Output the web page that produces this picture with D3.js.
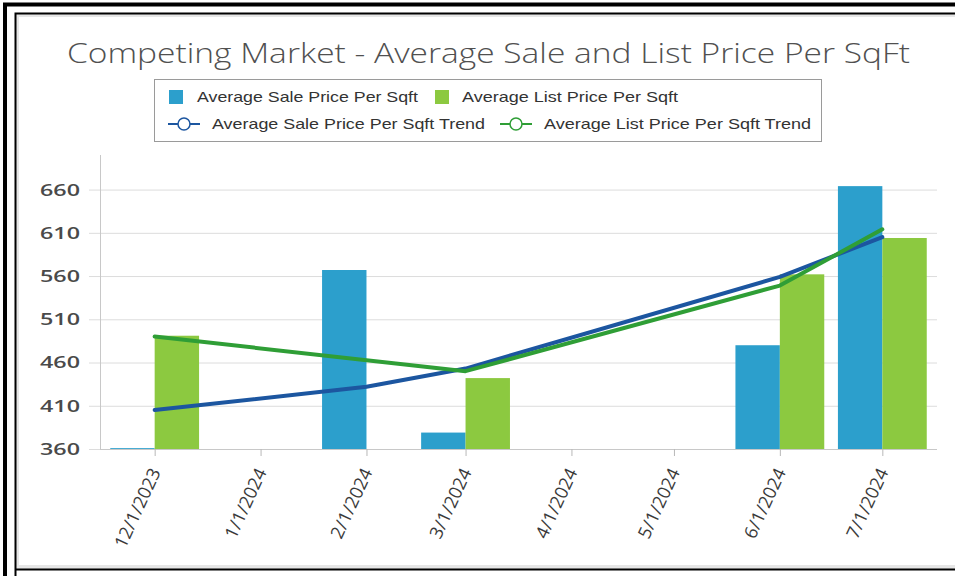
<!DOCTYPE html>
<html>
<head>
<meta charset="utf-8">
<script src="https://cdn.jsdelivr.net/npm/d3@7"></script>
<style>
  html, body { margin: 0; padding: 0; background: #fff; }
  svg { display: block; }
</style>
</head>
<body>
<svg id="chart" width="955" height="576"></svg>
<script>
// ---- data ----
const dates = ["2023-12-01", "2024-01-01", "2024-02-01", "2024-03-01", "2024-04-01", "2024-05-01", "2024-06-01", "2024-07-01"];
const tickLabels = ["12/1/2023", "1/1/2024", "2/1/2024", "3/1/2024", "4/1/2024", "5/1/2024", "6/1/2024", "7/1/2024"];
const salePrice = [361, null, 567, 379, null, null, 480, 664];
const listPrice = [491, null, null, 442, null, null, 562, 604];
const saleTrend = [405, null, 432, 453, null, null, 559, 605];
const listTrend = [490, null, null, 450, null, null, 549, 614];
const yTicks = [360, 410, 460, 510, 560, 610, 660];
const seriesNames = ["Average Sale Price Per Sqft", "Average List Price Per Sqft", "Average Sale Price Per Sqft Trend", "Average List Price Per Sqft Trend"];
const title = "Competing Market - Average Sale and List Price Per SqFt";

const colors = { saleBar: "#2c9fcc", listBar: "#8cc940", saleLine: "#1c56a0", listLine: "#2f9e36" };

const parse = d3.timeParse("%Y-%m-%d");
const dd = dates.map(parse);

const svg = d3.select("#chart");

// ---- frame ----
svg.append("rect").attr("x", 0).attr("y", 0).attr("width", 955).attr("height", 576).attr("fill", "#fff");
svg.append("line").attr("x1", 3).attr("x2", 955).attr("y1", 4.5).attr("y2", 4.5).attr("stroke", "#000").attr("stroke-width", 4);
svg.append("line").attr("x1", 5).attr("x2", 5).attr("y1", 3).attr("y2", 576).attr("stroke", "#000").attr("stroke-width", 4);
svg.append("rect").attr("x", 17).attr("y", 15).attr("width", 945).attr("height", 552)
  .attr("fill", "none").attr("stroke", "#e6e6e6").attr("stroke-width", 4);
svg.append("path").attr("d", "M15.5,576 V13.5 H955").attr("fill", "none").attr("stroke", "#000").attr("stroke-width", 2);
svg.append("line").attr("x1", 15).attr("x2", 955).attr("y1", 569.5).attr("y2", 569.5).attr("stroke", "#000").attr("stroke-width", 2);

// ---- title ----
svg.append("text").attr("x", 67).attr("y", 63)
  .attr("font-family", "'Open Sans', sans-serif").attr("font-weight", 300)
  .attr("font-size", 28).attr("fill", "#505050")
  .attr("textLength", 843).attr("lengthAdjust", "spacingAndGlyphs")
  .text(title);

// ---- scales ----
const day = 864e5;
const x = d3.scaleTime()
  .domain([new Date(dd[0].getTime() - 16 * day), new Date(dd[dd.length - 1].getTime() + 16 * day)])
  .range([100, 937]);
const y = d3.scaleLinear().domain([360, 700]).range([449, 155]);
const barW = x(new Date(dd[0].getTime() + 13 * day)) - x(dd[0]);

// ---- grid + y axis ----
const yAxis = d3.axisLeft(y).tickValues(yTicks).tickSize(-(937 - 89)).tickPadding(9).tickFormat(d3.format("d"));
const gy = svg.append("g").attr("transform", "translate(89,0)").call(yAxis);
gy.select(".domain").remove();
gy.selectAll(".tick line").attr("stroke", "#dcdcdc");
gy.selectAll(".tick text")
  .attr("font-family", "'Open Sans', sans-serif").attr("font-size", 17).attr("font-weight", 600)
  .attr("fill", "#4a4a4a").attr("textLength", 40).attr("lengthAdjust", "spacingAndGlyphs");
svg.append("line").attr("x1", 100.5).attr("x2", 100.5).attr("y1", 155).attr("y2", 449).attr("stroke", "#c8c8c8");

// ---- bars ----
const bars = svg.append("g");
bars.selectAll(".sale").data(dd.map((d, i) => ({ d, v: salePrice[i] })).filter(o => o.v != null))
  .join("rect").attr("x", o => x(o.d) - barW).attr("width", barW)
  .attr("y", o => y(o.v)).attr("height", o => y(360) - y(o.v)).attr("fill", colors.saleBar);
bars.selectAll(".list").data(dd.map((d, i) => ({ d, v: listPrice[i] })).filter(o => o.v != null))
  .join("rect").attr("class", "list").attr("x", o => x(o.d)).attr("width", barW)
  .attr("y", o => y(o.v)).attr("height", o => y(360) - y(o.v)).attr("fill", colors.listBar);

// ---- x axis ----
const xAxis = d3.axisBottom(x).tickValues(dd).tickSize(7).tickFormat((d, i) => tickLabels[i]);
const gx = svg.append("g").attr("transform", "translate(0,449)").call(xAxis);
gx.select(".domain").attr("d", "M100,0.5H937").attr("stroke", "#c8c8c8");
gx.selectAll(".tick line").attr("stroke", "#b8b8b8");
gx.selectAll(".tick text")
  .attr("x", 0).attr("y", 0).attr("dy", 0)
  .attr("transform", "translate(6,23) rotate(-65)")
  .attr("text-anchor", "end")
  .attr("font-family", "'Open Sans', sans-serif").attr("font-size", 18)
  .attr("fill", "#3a3a3a");

// ---- trend lines ----
const line = d3.line().x(o => x(o.d)).y(o => y(o.v));
svg.append("path").datum(dd.map((d, i) => ({ d, v: saleTrend[i] })).filter(o => o.v != null))
  .attr("d", line).attr("fill", "none").attr("stroke", colors.saleLine).attr("stroke-width", 4)
  .attr("stroke-linejoin", "round").attr("stroke-linecap", "round");
svg.append("path").datum(dd.map((d, i) => ({ d, v: listTrend[i] })).filter(o => o.v != null))
  .attr("d", line).attr("fill", "none").attr("stroke", colors.listLine).attr("stroke-width", 4)
  .attr("stroke-linejoin", "round").attr("stroke-linecap", "round");

// ---- legend ----
const lg = svg.append("g");
lg.append("rect").attr("x", 154.5).attr("y", 79.5).attr("width", 667).attr("height", 62)
  .attr("fill", "#fff").attr("stroke", "#9a9a9a");
const legendFont = "'Liberation Sans', Arial, sans-serif";
const items = [
  { type: "rect", color: colors.saleBar, mx: 169, tx: 197, tw: 221, row: 0, name: seriesNames[0] },
  { type: "rect", color: colors.listBar, mx: 435, tx: 462, tw: 216, row: 0, name: seriesNames[1] },
  { type: "line", color: colors.saleLine, mx: 168, tx: 212, tw: 273, row: 1, name: seriesNames[2] },
  { type: "line", color: colors.listLine, mx: 500, tx: 544, tw: 267, row: 1, name: seriesNames[3] }
];
items.forEach(it => {
  const cy = it.row === 0 ? 97 : 124;
  if (it.type === "rect") {
    lg.append("rect").attr("x", it.mx).attr("y", cy - 7).attr("width", 14).attr("height", 14).attr("fill", it.color);
  } else {
    lg.append("line").attr("x1", it.mx).attr("x2", it.mx + 32).attr("y1", cy).attr("y2", cy)
      .attr("stroke", it.color).attr("stroke-width", 2);
    lg.append("circle").attr("cx", it.mx + 16).attr("cy", cy).attr("r", 6)
      .attr("fill", "#fff").attr("stroke", it.color).attr("stroke-width", 1.5);
  }
  lg.append("text").attr("x", it.tx).attr("y", cy + 5)
    .attr("font-family", legendFont).attr("font-size", 15).attr("fill", "#333")
    .attr("textLength", it.tw).attr("lengthAdjust", "spacingAndGlyphs")
    .text(it.name);
});
</script>
</body>
</html>
